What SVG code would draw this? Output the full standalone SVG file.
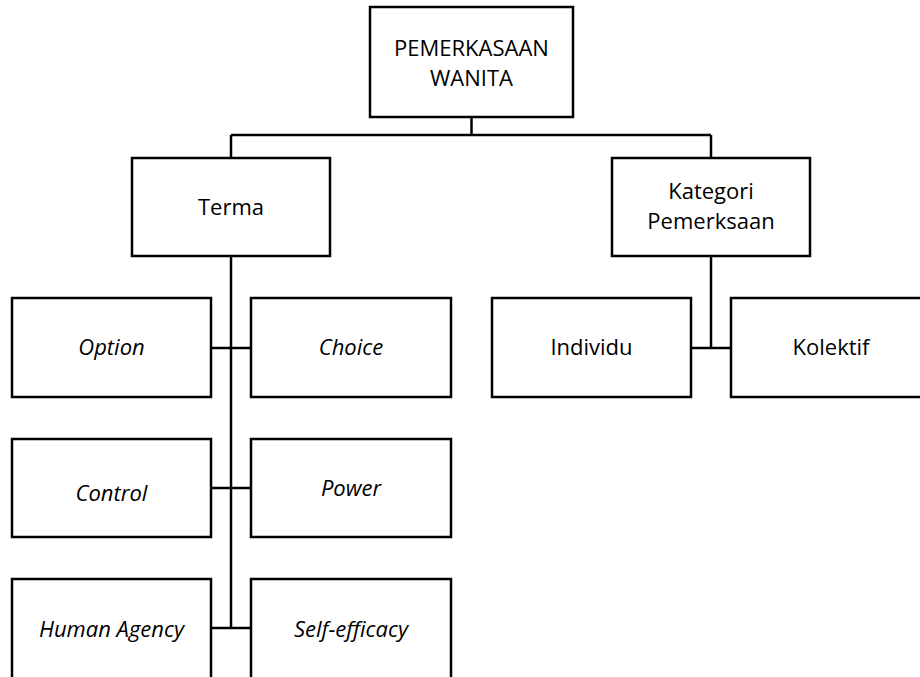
<svg xmlns="http://www.w3.org/2000/svg" width="920" height="677" viewBox="0 0 920 677">
<style>
.box{fill:#fff;stroke:#000;stroke-width:2.5}
.ln{fill:none;stroke:#000;stroke-width:2.5}
text{font-family:"Open Sans","Liberation Sans",sans-serif;font-size:22px;fill:#000;text-anchor:middle}
.it{font-style:italic}
</style>
<rect width="920" height="677" fill="#fff"/>
<g id="connectors">
<path class="ln" d="M471.5 117V135M231 135H711M231 135V158M711 135V158"/>
<path class="ln" d="M231 256V628M211 348H251M211 488H251M211 628H251"/>
<path class="ln" d="M711 256V348M691 348H731"/>
</g>
<g id="n-root"><rect class="box" x="370" y="7" width="203" height="110"/><text x="471.5" y="56">PEMERKASAAN</text><text x="471.5" y="86">WANITA</text></g>
<g id="n-terma"><rect class="box" x="132" y="158" width="198" height="98"/><text x="231" y="215">Terma</text></g>
<g id="n-kategori"><rect class="box" x="612" y="158" width="198" height="98"/><text x="711" y="199">Kategori</text><text x="711" y="229">Pemerksaan</text></g>
<g id="n-option"><rect class="box" x="12" y="298" width="199" height="99"/><text class="it" x="111.5" y="355">Option</text></g>
<g id="n-choice"><rect class="box" x="251" y="298" width="200" height="99"/><text class="it" x="351" y="355">Choice</text></g>
<g id="n-individu"><rect class="box" x="492" y="298" width="199" height="99"/><text x="591.5" y="355">Individu</text></g>
<g id="n-kolektif"><rect class="box" x="731" y="298" width="200" height="99"/><text x="831" y="355">Kolektif</text></g>
<g id="n-control"><rect class="box" x="12" y="439" width="199" height="98"/><text class="it" x="111.5" y="501">Control</text></g>
<g id="n-power"><rect class="box" x="251" y="439" width="200" height="98"/><text class="it" x="351" y="496">Power</text></g>
<g id="n-human"><rect class="box" x="12" y="579" width="199" height="110"/><text class="it" x="111.5" y="637">Human Agency</text></g>
<g id="n-self"><rect class="box" x="251" y="579" width="200" height="110"/><text class="it" x="351" y="637">Self-efficacy</text></g>
</svg>
